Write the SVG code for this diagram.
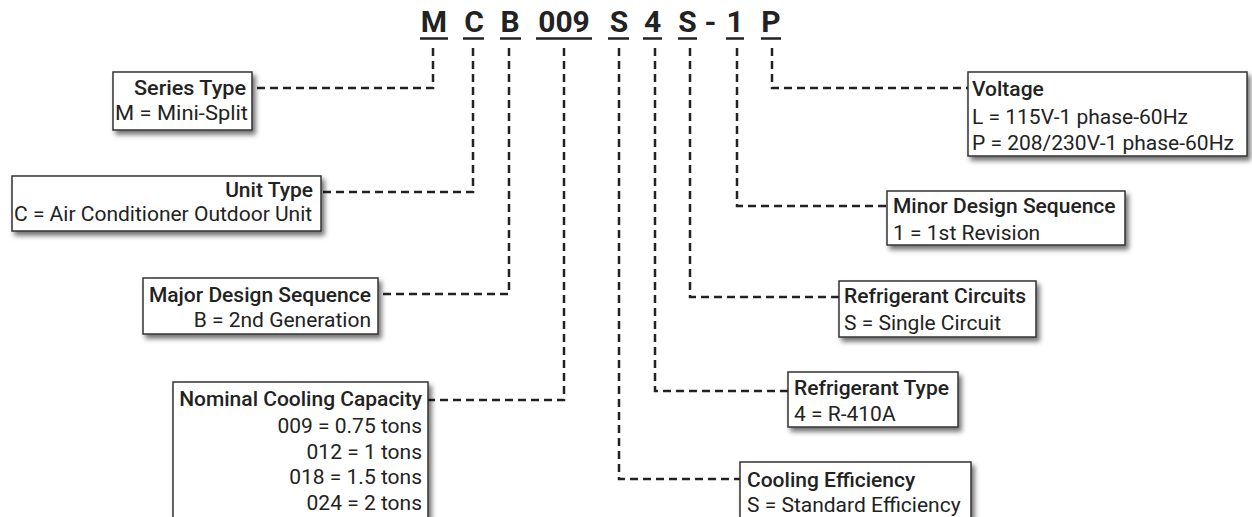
<svg xmlns="http://www.w3.org/2000/svg" width="1252" height="517" viewBox="0 0 1252 517">
<defs>
<filter id="sh" x="-10%" y="-20%" width="130%" height="160%">
<feDropShadow dx="3" dy="4" stdDeviation="2.5" flood-color="#000" flood-opacity="0.55"/>
</filter>
<style>
.code{font-family:Roboto,"Liberation Sans",sans-serif;font-weight:700;font-size:30px;fill:#222;text-anchor:middle}
.ul{stroke:#222;stroke-width:2.5}
.box{fill:#fff;stroke:#333;stroke-width:1.5;filter:url(#sh)}
.t{font-family:Roboto,"Liberation Sans",sans-serif;font-size:21px;fill:#222;font-weight:500}
.v{font-family:Roboto,"Liberation Sans",sans-serif;font-size:21px;fill:#222}
.r{text-anchor:end}
.con{fill:none;stroke:#222;stroke-width:2.5;stroke-dasharray:8 5}
</style>
</defs>
<rect width="1252" height="517" fill="#fff"/>
<g id="code">
<text class="code" x="434" y="32">M</text>
<text class="code" x="474" y="32">C</text>
<text class="code" x="510" y="32">B</text>
<text class="code" x="564" y="32">009</text>
<text class="code" x="619" y="32">S</text>
<text class="code" x="652.5" y="32">4</text>
<text class="code" x="687.5" y="32">S</text>
<text class="code" x="710.5" y="32">-</text>
<text class="code" x="735" y="32">1</text>
<text class="code" x="771" y="32">P</text>
<line class="ul" x1="420" y1="38.5" x2="448" y2="38.5"/>
<line class="ul" x1="463" y1="38.5" x2="484" y2="38.5"/>
<line class="ul" x1="500" y1="38.5" x2="521" y2="38.5"/>
<line class="ul" x1="536" y1="38.5" x2="592" y2="38.5"/>
<line class="ul" x1="608" y1="38.5" x2="629" y2="38.5"/>
<line class="ul" x1="643" y1="38.5" x2="662" y2="38.5"/>
<line class="ul" x1="678" y1="38.5" x2="697" y2="38.5"/>
<line class="ul" x1="726" y1="38.5" x2="744" y2="38.5"/>
<line class="ul" x1="761" y1="38.5" x2="781" y2="38.5"/>
</g>
<g id="connectors">
<path class="con" d="M433 48V88H252"/>
<path class="con" d="M473 48V192H321"/>
<path class="con" d="M509 48V294H378"/>
<path class="con" d="M564 48V400H428"/>
<path class="con" d="M619 48V479H740"/>
<path class="con" d="M655 48V391H788"/>
<path class="con" d="M690 48V297H839"/>
<path class="con" d="M737 48V206H887"/>
<path class="con" d="M772 48V88H968"/>
</g>
<g id="series-type">
<rect class="box" x="113" y="72" width="139" height="58"/>
<text class="t r" x="246" y="95" textLength="112" lengthAdjust="spacingAndGlyphs">Series Type</text>
<text class="v" x="115" y="120" textLength="133" lengthAdjust="spacingAndGlyphs">M = Mini-Split</text>
</g>
<g id="unit-type">
<rect class="box" x="12" y="176" width="309" height="55"/>
<text class="t r" x="313" y="197">Unit Type</text>
<text class="v" x="14" y="221">C = Air Conditioner Outdoor Unit</text>
</g>
<g id="major-design">
<rect class="box" x="143" y="278" width="235" height="56"/>
<text class="t r" x="371" y="302">Major Design Sequence</text>
<text class="v r" x="371" y="327">B = 2nd Generation</text>
</g>
<g id="nominal-capacity">
<rect class="box" x="173" y="382" width="255" height="160"/>
<text class="t r" x="422" y="406">Nominal Cooling Capacity</text>
<text class="v r" x="422" y="433">009 = 0.75 tons</text>
<text class="v r" x="422" y="458.5">012 = 1 tons</text>
<text class="v r" x="422" y="484">018 = 1.5 tons</text>
<text class="v r" x="422" y="510">024 = 2 tons</text>
</g>
<g id="voltage">
<rect class="box" x="968" y="72" width="279" height="84"/>
<text class="t" x="972" y="96">Voltage</text>
<text class="v" x="972" y="124">L = 115V-1 phase-60Hz</text>
<text class="v" x="972" y="150">P = 208/230V-1 phase-60Hz</text>
</g>
<g id="minor-design">
<rect class="box" x="887" y="191" width="238" height="54"/>
<text class="t" x="893" y="213">Minor Design Sequence</text>
<text class="v" x="893" y="240">1 = 1st Revision</text>
</g>
<g id="refrigerant-circuits">
<rect class="box" x="839" y="281" width="197" height="56"/>
<text class="t" x="844" y="303">Refrigerant Circuits</text>
<text class="v" x="844" y="330">S = Single Circuit</text>
</g>
<g id="refrigerant-type">
<rect class="box" x="788" y="372" width="170" height="55"/>
<text class="t" x="794" y="395">Refrigerant Type</text>
<text class="v" x="794" y="421">4 = R-410A</text>
</g>
<g id="cooling-efficiency">
<rect class="box" x="740" y="462" width="231" height="80"/>
<text class="t" x="747" y="487">Cooling Efficiency</text>
<text class="v" x="747" y="512">S = Standard Efficiency</text>
</g>
</svg>
